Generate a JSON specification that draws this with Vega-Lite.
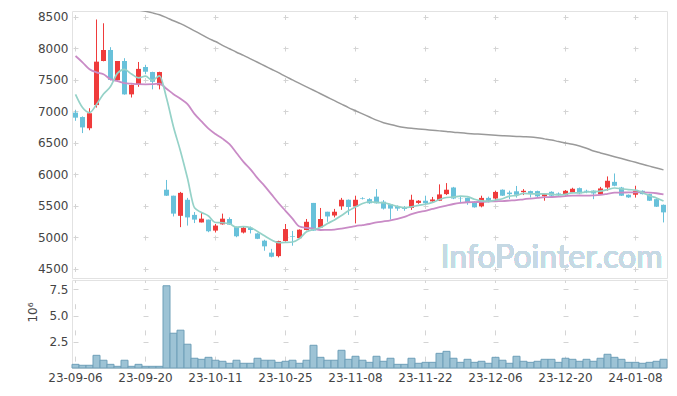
{
  "$schema": "https://vega.github.io/schema/vega-lite/v6.json",
  "padding": {"left": 26, "top": 10, "right": 8, "bottom": 5},
  "bounds": "flush",
  "spacing": 2,
  "config": {
    "font": "DejaVu Sans",
    "view": {"stroke": "#e2e2e2"},
    "axis": {"labelFont": "DejaVu Sans", "labelFontSize": 12, "labelColor": "#444444", "ticks": false, "domain": false, "gridColor": "#d4d4d4", "titleFont": "DejaVu Sans", "titleFontSize": 12, "titleColor": "#444444", "titleFontWeight": "normal"}
  },
  "data": {"values": [
    {"d":"23-09-06","o":6980,"h":7020,"l":6850,"c":6900,"v":0.35,"m5":7270,"m20":7880,"m120":8745},
    {"d":"23-09-07","o":6910,"h":6920,"l":6655,"c":6745,"v":0.26,"m5":7060,"m20":7780,"m120":8730},
    {"d":"23-09-08","o":6730,"h":7050,"l":6700,"c":6970,"v":0.26,"m5":6980,"m20":7670,"m120":8715},
    {"d":"23-09-11","o":7100,"h":8460,"l":7060,"c":7790,"v":1.21,"m5":7110,"m20":7620,"m120":8700},
    {"d":"23-09-12","o":7800,"h":8400,"l":7795,"c":7975,"v":0.74,"m5":7276,"m20":7590,"m120":8685},
    {"d":"23-09-13","o":7975,"h":8020,"l":7490,"c":7500,"v":0.35,"m5":7396,"m20":7510,"m120":8670},
    {"d":"23-09-14","o":7495,"h":7800,"l":7490,"c":7800,"v":0.16,"m5":7607,"m20":7480,"m120":8655},
    {"d":"23-09-15","o":7800,"h":7845,"l":7265,"c":7270,"v":0.74,"m5":7667,"m20":7450,"m120":8640},
    {"d":"23-09-18","o":7270,"h":7425,"l":7220,"c":7420,"v":0.16,"m5":7593,"m20":7440,"m120":8625},
    {"d":"23-09-19","o":7425,"h":7785,"l":7390,"c":7675,"v":0.35,"m5":7533,"m20":7432,"m120":8610},
    {"d":"23-09-20","o":7705,"h":7740,"l":7590,"c":7630,"v":0.16,"m5":7559,"m20":7430,"m120":8590},
    {"d":"23-09-21","o":7625,"h":7630,"l":7350,"c":7470,"v":0.16,"m5":7493,"m20":7432,"m120":8565},
    {"d":"23-09-22","o":7415,"h":7630,"l":7350,"c":7625,"v":0.16,"m5":7564,"m20":7440,"m120":8535},
    {"d":"23-09-25","o":5755,"h":5910,"l":5655,"c":5660,"v":7.85,"m5":7212,"m20":7360,"m120":8490},
    {"d":"23-09-26","o":5660,"h":5660,"l":5330,"c":5375,"v":3.32,"m5":6752,"m20":7273,"m120":8440},
    {"d":"23-09-27","o":5340,"h":5720,"l":5160,"c":5705,"v":3.61,"m5":6367,"m20":7200,"m120":8394},
    {"d":"23-10-04","o":5595,"h":5625,"l":5185,"c":5315,"v":2.27,"m5":5936,"m20":7114,"m120":8340},
    {"d":"23-10-05","o":5355,"h":5400,"l":5225,"c":5280,"v":0.93,"m5":5467,"m20":6960,"m120":8280},
    {"d":"23-10-06","o":5235,"h":5385,"l":5235,"c":5295,"v":0.83,"m5":5394,"m20":6840,"m120":8220},
    {"d":"23-10-10","o":5280,"h":5280,"l":5080,"c":5095,"v":1.02,"m5":5338,"m20":6725,"m120":8160},
    {"d":"23-10-11","o":5105,"h":5210,"l":5075,"c":5185,"v":0.74,"m5":5234,"m20":6639,"m120":8110},
    {"d":"23-10-12","o":5205,"h":5375,"l":5200,"c":5295,"v":0.64,"m5":5230,"m20":6567,"m120":8050},
    {"d":"23-10-13","o":5290,"h":5315,"l":5195,"c":5200,"v":0.45,"m5":5214,"m20":6478,"m120":7995},
    {"d":"23-10-16","o":5165,"h":5170,"l":5000,"c":5015,"v":0.74,"m5":5158,"m20":6339,"m120":7940},
    {"d":"23-10-17","o":5075,"h":5170,"l":5060,"c":5150,"v":0.45,"m5":5169,"m20":6198,"m120":7890},
    {"d":"23-10-18","o":5150,"h":5170,"l":5060,"c":5115,"v":0.45,"m5":5155,"m20":6079,"m120":7835},
    {"d":"23-10-19","o":5060,"h":5065,"l":4970,"c":4975,"v":0.93,"m5":5091,"m20":5938,"m120":7780},
    {"d":"23-10-20","o":4945,"h":4960,"l":4785,"c":4855,"v":0.74,"m5":5022,"m20":5817,"m120":7725},
    {"d":"23-10-23","o":4755,"h":4815,"l":4680,"c":4690,"v":0.74,"m5":4957,"m20":5680,"m120":7670},
    {"d":"23-10-24","o":4700,"h":4945,"l":4680,"c":4940,"v":0.54,"m5":4915,"m20":5544,"m120":7615},
    {"d":"23-10-25","o":4940,"h":5210,"l":4930,"c":5130,"v":0.64,"m5":4918,"m20":5419,"m120":7555},
    {"d":"23-10-26","o":5015,"h":5100,"l":4865,"c":5005,"v":0.74,"m5":4924,"m20":5295,"m120":7500},
    {"d":"23-10-27","o":4985,"h":5125,"l":4980,"c":5120,"v":0.45,"m5":4977,"m20":5170,"m120":7445},
    {"d":"23-10-30","o":5115,"h":5290,"l":5110,"c":5245,"v":0.74,"m5":5088,"m20":5149,"m120":7390},
    {"d":"23-10-31","o":5545,"h":5545,"l":5100,"c":5105,"v":2.17,"m5":5121,"m20":5136,"m120":7336},
    {"d":"23-11-01","o":5155,"h":5465,"l":5150,"c":5290,"v":1.02,"m5":5153,"m20":5115,"m120":7280},
    {"d":"23-11-02","o":5405,"h":5405,"l":5245,"c":5330,"v":0.74,"m5":5218,"m20":5116,"m120":7225},
    {"d":"23-11-03","o":5345,"h":5450,"l":5315,"c":5405,"v":0.74,"m5":5275,"m20":5122,"m120":7170},
    {"d":"23-11-06","o":5490,"h":5625,"l":5435,"c":5595,"v":1.69,"m5":5345,"m20":5137,"m120":7115},
    {"d":"23-11-07","o":5595,"h":5600,"l":5355,"c":5480,"v":0.83,"m5":5420,"m20":5156,"m120":7060},
    {"d":"23-11-08","o":5490,"h":5660,"l":5220,"c":5595,"v":1.12,"m5":5481,"m20":5177,"m120":7010},
    {"d":"23-11-09","o":5620,"h":5635,"l":5600,"c":5610,"v":0.74,"m5":5537,"m20":5193,"m120":6960},
    {"d":"23-11-10","o":5605,"h":5620,"l":5530,"c":5540,"v":0.54,"m5":5564,"m20":5210,"m120":6910},
    {"d":"23-11-13","o":5645,"h":5765,"l":5535,"c":5540,"v":1.12,"m5":5553,"m20":5236,"m120":6860},
    {"d":"23-11-14","o":5565,"h":5590,"l":5440,"c":5455,"v":0.64,"m5":5548,"m20":5251,"m120":6820},
    {"d":"23-11-15","o":5525,"h":5530,"l":5280,"c":5455,"v":0.93,"m5":5520,"m20":5268,"m120":6790},
    {"d":"23-11-16","o":5495,"h":5505,"l":5420,"c":5455,"v":0.35,"m5":5489,"m20":5292,"m120":6765},
    {"d":"23-11-17","o":5470,"h":5495,"l":5420,"c":5450,"v":0.35,"m5":5471,"m20":5322,"m120":6745},
    {"d":"23-11-20","o":5465,"h":5675,"l":5435,"c":5595,"v":0.93,"m5":5482,"m20":5367,"m120":6730},
    {"d":"23-11-21","o":5545,"h":5590,"l":5530,"c":5580,"v":0.45,"m5":5507,"m20":5399,"m120":6720},
    {"d":"23-11-22","o":5580,"h":5660,"l":5530,"c":5540,"v":0.54,"m5":5524,"m20":5420,"m120":6710},
    {"d":"23-11-23","o":5570,"h":5640,"l":5560,"c":5600,"v":0.54,"m5":5553,"m20":5449,"m120":6700},
    {"d":"23-11-24","o":5580,"h":5840,"l":5575,"c":5680,"v":1.40,"m5":5599,"m20":5477,"m120":6690},
    {"d":"23-11-27","o":5685,"h":5860,"l":5670,"c":5755,"v":1.59,"m5":5631,"m20":5503,"m120":6680},
    {"d":"23-11-28","o":5790,"h":5800,"l":5605,"c":5615,"v":0.93,"m5":5638,"m20":5528,"m120":6668},
    {"d":"23-11-29","o":5620,"h":5650,"l":5540,"c":5615,"v":0.54,"m5":5653,"m20":5545,"m120":6660},
    {"d":"23-11-30","o":5625,"h":5630,"l":5515,"c":5555,"v":0.83,"m5":5644,"m20":5556,"m120":6650},
    {"d":"23-12-01","o":5565,"h":5575,"l":5470,"c":5475,"v":0.54,"m5":5603,"m20":5559,"m120":6642},
    {"d":"23-12-04","o":5490,"h":5660,"l":5475,"c":5625,"v":0.64,"m5":5577,"m20":5561,"m120":6635},
    {"d":"23-12-05","o":5625,"h":5645,"l":5555,"c":5580,"v":0.45,"m5":5570,"m20":5566,"m120":6627},
    {"d":"23-12-06","o":5615,"h":5740,"l":5580,"c":5720,"v":1.02,"m5":5591,"m20":5572,"m120":6620},
    {"d":"23-12-07","o":5755,"h":5760,"l":5655,"c":5660,"v":0.74,"m5":5612,"m20":5575,"m120":6613},
    {"d":"23-12-08","o":5710,"h":5740,"l":5605,"c":5685,"v":0.45,"m5":5654,"m20":5582,"m120":6607},
    {"d":"23-12-11","o":5730,"h":5815,"l":5630,"c":5675,"v":1.12,"m5":5664,"m20":5589,"m120":6602},
    {"d":"23-12-12","o":5717,"h":5765,"l":5670,"c":5738,"v":0.64,"m5":5696,"m20":5603,"m120":6597},
    {"d":"23-12-13","o":5733,"h":5740,"l":5632,"c":5690,"v":0.54,"m5":5690,"m20":5614,"m120":6592},
    {"d":"23-12-14","o":5733,"h":5740,"l":5635,"c":5650,"v":0.64,"m5":5688,"m20":5624,"m120":6580},
    {"d":"23-12-15","o":5650,"h":5700,"l":5580,"c":5685,"v":0.83,"m5":5688,"m20":5636,"m120":6563},
    {"d":"23-12-18","o":5722,"h":5730,"l":5650,"c":5660,"v":0.83,"m5":5685,"m20":5639,"m120":6545},
    {"d":"23-12-19","o":5695,"h":5712,"l":5650,"c":5670,"v":0.54,"m5":5671,"m20":5644,"m120":6520},
    {"d":"23-12-20","o":5670,"h":5750,"l":5660,"c":5738,"v":0.93,"m5":5681,"m20":5654,"m120":6498},
    {"d":"23-12-21","o":5712,"h":5786,"l":5700,"c":5770,"v":0.83,"m5":5705,"m20":5662,"m120":6478},
    {"d":"23-12-22","o":5780,"h":5790,"l":5685,"c":5696,"v":0.64,"m5":5707,"m20":5663,"m120":6450},
    {"d":"23-12-26","o":5738,"h":5755,"l":5700,"c":5722,"v":0.83,"m5":5719,"m20":5661,"m120":6415},
    {"d":"23-12-27","o":5740,"h":5745,"l":5605,"c":5696,"v":0.64,"m5":5724,"m20":5665,"m120":6370},
    {"d":"23-12-28","o":5685,"h":5800,"l":5670,"c":5775,"v":0.93,"m5":5732,"m20":5673,"m120":6340},
    {"d":"24-01-02","o":5790,"h":5966,"l":5740,"c":5897,"v":1.31,"m5":5757,"m20":5690,"m120":6310},
    {"d":"24-01-03","o":5880,"h":6013,"l":5810,"c":5818,"v":1.02,"m5":5782,"m20":5708,"m120":6280},
    {"d":"24-01-04","o":5790,"h":5800,"l":5655,"c":5660,"v":0.83,"m5":5769,"m20":5709,"m120":6250},
    {"d":"24-01-05","o":5675,"h":5680,"l":5625,"c":5633,"v":0.54,"m5":5757,"m20":5712,"m120":6220},
    {"d":"24-01-08","o":5675,"h":5818,"l":5630,"c":5738,"v":0.54,"m5":5749,"m20":5713,"m120":6190},
    {"d":"24-01-09","o":5738,"h":5745,"l":5680,"c":5685,"v":0.45,"m5":5707,"m20":5714,"m120":6160},
    {"d":"24-01-10","o":5685,"h":5690,"l":5575,"c":5580,"v":0.54,"m5":5659,"m20":5709,"m120":6130},
    {"d":"24-01-11","o":5605,"h":5620,"l":5480,"c":5485,"v":0.64,"m5":5624,"m20":5699,"m120":6100},
    {"d":"24-01-12","o":5515,"h":5520,"l":5235,"c":5395,"v":0.83,"m5":5577,"m20":5682,"m120":6070}
  ]},
  "vconcat": [
    {
      "width": 595,
      "height": 267,
      "encoding": {
        "x": {"field": "d", "type": "ordinal", "title": null,
          "scale": {"paddingInner": 0, "paddingOuter": 0},
          "axis": {"labels": false, "grid": true, "gridDash": [5, 26.5], "gridDashOffset": 28,
            "values": ["23-09-06","23-09-20","23-10-11","23-10-25","23-11-08","23-11-22","23-12-06","23-12-20","24-01-08"]}}
      },
      "layer": [
        {
          "mark": {"type": "rule", "strokeWidth": 1},
          "encoding": {
            "y": {"field": "l", "type": "quantitative", "title": null,
              "scale": {"domain": [4352, 8595], "nice": false, "zero": false},
              "axis": {"tickCount": 9, "labelExpr": "replace(datum.label, ',', '')", "labelOverlap": false, "labelSeparation": 0, "labelBound": false, "labelPadding": 4, "grid": true, "gridDash": [5, 65], "gridDashOffset": 69}},
            "y2": {"field": "h"},
            "color": {"condition": {"test": "datum.c >= datum.o", "value": "#ef3b3b"}, "value": "#68c1da"}
          }
        },
        {
          "mark": {"type": "bar", "width": {"band": 0.72}},
          "encoding": {
            "y": {"field": "o", "type": "quantitative"},
            "y2": {"field": "c"},
            "color": {"condition": {"test": "datum.c >= datum.o", "value": "#ef3b3b"}, "value": "#68c1da"}
          }
        },
        {
          "mark": {"type": "line", "color": "#9a9a9a", "strokeWidth": 1.5, "clip": true, "interpolate": "monotone"},
          "encoding": {"y": {"field": "m120", "type": "quantitative"}}
        },
        {
          "mark": {"type": "line", "color": "#c98bc6", "strokeWidth": 1.8, "clip": true, "interpolate": "monotone"},
          "encoding": {"y": {"field": "m20", "type": "quantitative"}}
        },
        {
          "mark": {"type": "line", "color": "#95d2c8", "strokeWidth": 1.7, "clip": true, "interpolate": "monotone"},
          "encoding": {"y": {"field": "m5", "type": "quantitative"}}
        },
        {
          "mark": {"type": "text", "font": "Lato", "fontSize": 32, "color": "#c6d9e4", "align": "center", "baseline": "alphabetic"},
          "encoding": {
            "x": {"datum": "23-12-18"},
            "y": {"datum": 4505, "type": "quantitative"},
            "text": {"value": "InfoPointer.com"}
          }
        }
      ]
    },
    {
      "width": 595,
      "height": 88,
      "mark": {"type": "bar", "fill": "#9dc3d5", "stroke": "#6e9fb8", "strokeWidth": 1, "width": {"band": 1}},
      "encoding": {
        "x": {"field": "d", "type": "ordinal", "title": null,
          "scale": {"paddingInner": 0, "paddingOuter": 0},
          "axis": {"labelAngle": 0, "labelPadding": 4, "grid": true, "gridDash": [5, 21.2], "gridDashOffset": 2.5,
            "values": ["23-09-06","23-09-20","23-10-11","23-10-25","23-11-08","23-11-22","23-12-06","23-12-20","24-01-08"]}},
        "y": {"field": "v", "type": "quantitative", "title": "10⁶",
          "scale": {"domain": [0, 8.4], "nice": false},
          "axis": {"values": [2.5, 5, 7.5], "format": ".1f", "labelFlush": false, "labelOverlap": false, "labelSeparation": 0, "labelBound": false, "labelPadding": 4, "titlePadding": 9, "titleY": 32, "grid": true, "gridDash": [5, 65], "gridDashOffset": 69}}
      }
    }
  ]
}
